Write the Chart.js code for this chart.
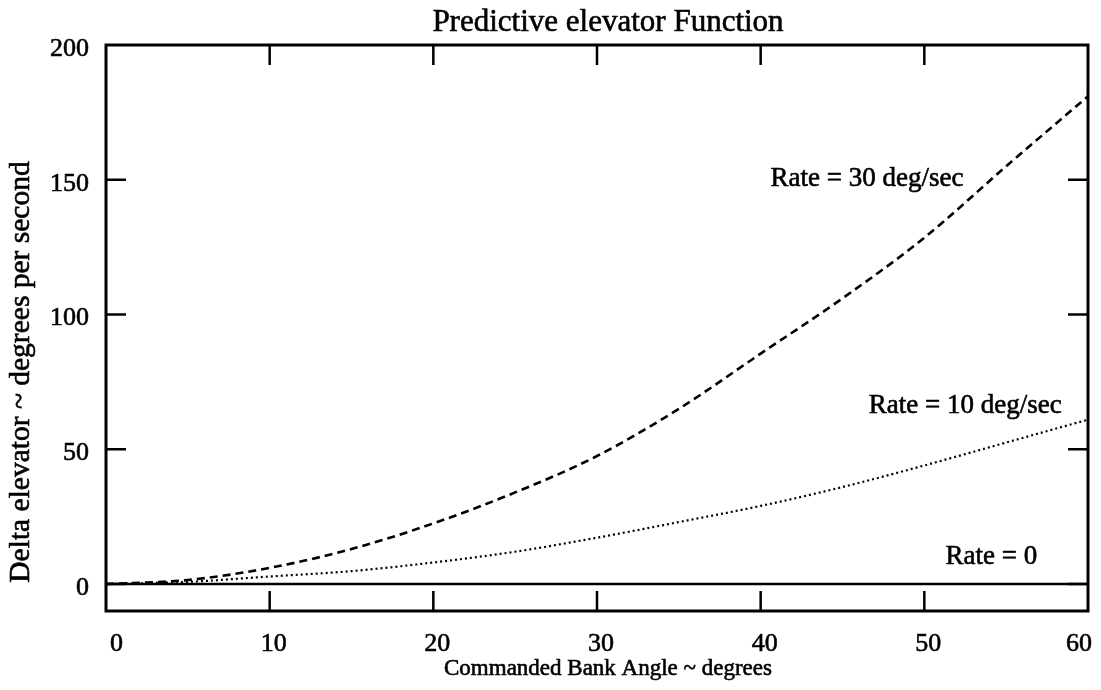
<!DOCTYPE html>
<html>
<head>
<meta charset="utf-8">
<title>Predictive elevator Function</title>
<script src="https://cdn.jsdelivr.net/npm/chart.js@4/dist/chart.umd.min.js"></script>
<style>
  html, body { margin: 0; padding: 0; background: #fff; }
  canvas { display: block; }
</style>
</head>
<body>
<canvas id="chart" width="1101" height="690"></canvas>
<script>
// bank angle samples (deg) and delta elevator for each roll rate (deg/s)
const bankAngle = [0, 5, 10, 15, 20, 25, 30, 35, 40, 45, 50, 55, 60];
const rate30 = [0, 1.5, 6, 13, 22.5, 34, 47.5, 65, 85.5, 106, 128.5, 155, 181];
const rate10 = [0, 0.8, 2.8, 4.8, 8, 12, 17.2, 23, 29, 36, 44, 52.5, 61];
const rate0 = [0, 0, 0, 0, 0, 0, 0, 0, 0, 0, 0, 0, 0];

const xTicks = [0, 10, 20, 30, 40, 50, 60];
const yTicks = [0, 50, 100, 150, 200];

const curveLabels = [
  { text: "Rate = 30 deg/sec", x: 46.5, y: 150.5 },
  { text: "Rate = 10 deg/sec", x: 52.5, y: 66 },
  { text: "Rate = 0", x: 54.1, y: 10.2 }
];

const SERIF = '"Liberation Serif", "Times New Roman", serif';
const INK = "#000";
const HEAVY = 0.6; // extra stroke so the serif text reads as dark as the print

const points = ys => bankAngle.map((x, i) => ({ x, y: ys[i] }));

function inkText(ctx, text, x, y) {
  ctx.fillText(text, x, y);
  ctx.strokeText(text, x, y);
}

// frame, inward ticks and all the free text
const decor = {
  id: "decor",
  afterDatasetsDraw(chart) {
    const { ctx, chartArea: a, scales: { x, y } } = chart;
    const tick = 20;
    ctx.save();
    ctx.strokeStyle = INK;

    ctx.lineWidth = 2.5;
    ctx.beginPath();
    xTicks.slice(1, -1).forEach(v => {
      const px = x.getPixelForValue(v);
      ctx.moveTo(px, a.bottom); ctx.lineTo(px, a.bottom - tick);
      ctx.moveTo(px, a.top); ctx.lineTo(px, a.top + tick);
    });
    yTicks.slice(0, -1).forEach(v => {
      const py = y.getPixelForValue(v);
      ctx.moveTo(a.left, py); ctx.lineTo(a.left + tick, py);
      ctx.moveTo(a.right, py); ctx.lineTo(a.right - tick, py);
    });
    ctx.stroke();

    ctx.lineWidth = 3;
    ctx.strokeRect(a.left, a.top, a.right - a.left, a.bottom - a.top);

    ctx.fillStyle = INK;
    ctx.lineWidth = HEAVY;
    ctx.lineJoin = "round";
    ctx.textAlign = "center";
    ctx.textBaseline = "middle";

    ctx.font = "27px " + SERIF;
    curveLabels.forEach(l => {
      inkText(ctx, l.text, x.getPixelForValue(l.x), y.getPixelForValue(l.y));
    });

    const midX = (a.left + a.right) / 2 + 11;
    ctx.font = "31px " + SERIF;
    inkText(ctx, "Predictive elevator Function", midX, 23);

    ctx.font = "23px " + SERIF;
    inkText(ctx, "Commanded Bank Angle ~ degrees", midX, 669);

    ctx.translate(21, 372);
    ctx.rotate(-Math.PI / 2);
    ctx.font = "29.5px " + SERIF;
    inkText(ctx, "Delta elevator ~ degrees per second", 0, 0);
    ctx.restore();
  }
};

const tickFont = { family: SERIF, size: 26 };

new Chart(document.getElementById("chart"), {
  type: "line",
  data: {
    datasets: [
      { data: points(rate30), borderColor: INK, borderWidth: 2.6, borderDash: [8, 5] },
      { data: points(rate10), borderColor: INK, borderWidth: 2.2, borderDash: [2, 3] },
      { data: points(rate0), borderColor: INK, borderWidth: 2.5 }
    ]
  },
  options: {
    responsive: false,
    animation: false,
    events: [],
    layout: { padding: { top: 45, right: 13, bottom: 0, left: 0 } },
    elements: {
      point: { radius: 0 },
      line: { cubicInterpolationMode: "monotone", fill: false }
    },
    plugins: {
      legend: { display: false },
      tooltip: { enabled: false }
    },
    scales: {
      x: {
        type: "linear",
        min: 0,
        max: 60,
        afterBuildTicks: s => { s.ticks = xTicks.map(value => ({ value })); },
        afterFit: s => { s.height = 79; },
        grid: { display: false },
        border: { display: false },
        ticks: {
          font: tickFont, color: INK, padding: 10,
          textStrokeColor: INK, textStrokeWidth: HEAVY,
          align: "inner", labelOffset: 4, maxRotation: 0, autoSkip: false
        }
      },
      y: {
        type: "linear",
        min: -10,
        max: 200,
        afterBuildTicks: s => { s.ticks = yTicks.map(value => ({ value })); },
        afterFit: s => { s.width = 106; },
        grid: { display: false },
        border: { display: false },
        ticks: {
          font: tickFont, color: INK, padding: 9, labelOffset: 4,
          textStrokeColor: INK, textStrokeWidth: HEAVY
        }
      }
    }
  },
  plugins: [decor]
});
</script>
</body>
</html>
